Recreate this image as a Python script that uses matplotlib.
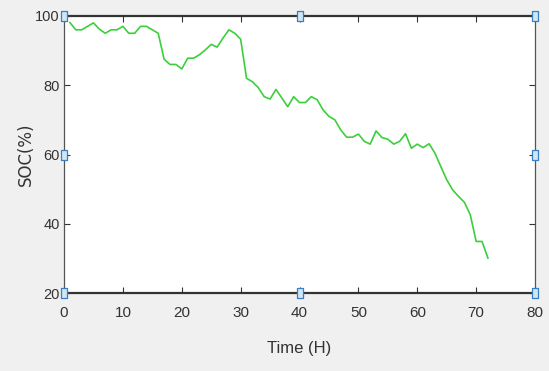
import matplotlib.pyplot as plt

time_h = list(range(1, 73))
soc = [98.1, 96.0, 96.0, 97.0, 98.0, 96.2, 95.0, 96.0, 96.0, 97.0,
       95.0, 95.0, 97.0, 97.0, 96.0, 95.0, 87.5, 86.0, 86.0, 84.7,
       87.8, 87.8, 88.8, 90.2, 91.8, 91.0, 93.6, 96.0, 95.0, 93.3,
       82.0, 81.0, 79.3, 76.7, 76.0, 78.8, 76.3, 73.8, 76.7, 75.0,
       75.0, 76.7, 75.8, 72.9, 71.0, 70.0, 67.1, 65.0, 65.0, 65.9,
       63.8, 63.0, 66.8, 64.9, 64.4, 63.0, 63.8, 66.0, 61.8, 63.0,
       62.0, 63.1, 60.4, 56.5, 52.7, 49.8, 47.9, 46.2, 42.6, 34.9,
       34.9, 30.1]

xticks = [0, 10, 20, 30, 40, 50, 60, 70, 80]
yticks = [20, 40, 60, 80, 100]

fig = plt.figure(figsize=(5.49, 3.71), dpi=100, facecolor='#f0f0f0')
ax = fig.add_axes([0.1166, 0.21, 0.858, 0.747])
ax.set_facecolor('white')

ax.plot(time_h, soc, color='#3ccf3c', linewidth=1.2)

ax.set_xlim(0, 80)
ax.set_ylim(20, 100)
ax.set_xticks(xticks)
ax.set_yticks(yticks)
ax.tick_params(direction='in', top=True, right=True, length=4, width=0.8,
               colors='#333333', labelsize=11, pad=4)
ax.tick_params(axis='x', pad=9)
ax.tick_params(axis='y', labelsize=10.5, pad=3)
for lbl in ax.get_xticklabels() + ax.get_yticklabels():
    lbl.set_family('Liberation Sans')

for side in ['top', 'bottom']:
    ax.spines[side].set_linewidth(1.6)
    ax.spines[side].set_color('#333333')
for side in ['left', 'right']:
    ax.spines[side].set_linewidth(0.9)
    ax.spines[side].set_color('#555555')

ax.set_xlabel('Time (H)', fontsize=12, color='#333333', family='Liberation Sans')
ax.set_ylabel('SOC(%)', fontsize=12, color='#333333')
ax.xaxis.set_label_coords(0.5, -0.2)
ax.yaxis.set_label_coords(-0.08, 0.5)
ax.xaxis.label.set_va('center')
ax.yaxis.label.set_va('center')

# selection handles around the axes box
handles_x = [0, 0.5, 1, 0, 1, 0, 0.5, 1]
handles_y = [1, 1, 1, 0.5, 0.5, 0, 0, 0]
box = [(-0.6, -1), (0.6, -1), (0.6, 1), (-0.6, 1), (-0.6, -1)]
ax.scatter(handles_x, handles_y, transform=ax.transAxes, marker=box, s=50,
           facecolor='#cfe6f7', edgecolor='#3a7fc0', linewidth=0.9,
           clip_on=False, zorder=5)

fig.savefig('out.png', dpi=100, facecolor=fig.get_facecolor())
